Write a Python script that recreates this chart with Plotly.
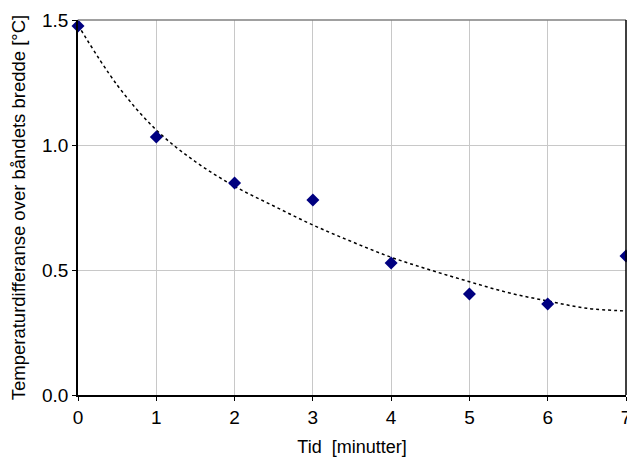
import plotly.graph_objects as go

time_min = [0, 1, 2, 3, 4, 5, 6, 7]
temp_diff = [1.476, 1.032, 0.848, 0.78, 0.528, 0.404, 0.364, 0.556]

trend_x = [0, 0.5, 1, 1.5, 2, 2.5, 3, 3.5, 4, 4.5, 5, 5.5, 6, 6.5, 7]
trend_y = [1.48, 1.24, 1.06, 0.933, 0.835, 0.756, 0.68, 0.613, 0.551, 0.50, 0.453, 0.409, 0.376, 0.347, 0.336]

x_ticks = [0, 1, 2, 3, 4, 5, 6, 7]
y_ticks = [0.0, 0.5, 1.0, 1.5]
y_tick_labels = ["0.0", "0.5", "1.0", "1.5"]

fig = go.Figure()
fig.add_trace(go.Scatter(
    x=trend_x, y=trend_y, mode="lines",
    line=dict(color="black", width=1.5, dash="dot", shape="spline", smoothing=1.0),
    hoverinfo="skip", cliponaxis=False,
))
fig.add_trace(go.Scatter(
    x=time_min, y=temp_diff, mode="markers",
    marker=dict(symbol="diamond", size=10, color="#000080"),
    cliponaxis=False,
))

font = "Liberation Sans, Arial, sans-serif"
fig.update_layout(
    width=627, height=457,
    margin=dict(l=78, r=1, t=20, b=62, autoexpand=False),
    paper_bgcolor="white", plot_bgcolor="white",
    showlegend=False,
    font=dict(family=font, color="black"),
    xaxis=dict(
        range=[0, 7], tickvals=x_ticks, ticktext=[str(v) for v in x_ticks],
        showgrid=True, gridcolor="#c8c8c8", gridwidth=1,
        showline=True, linecolor="black", linewidth=1.5,
        ticks="outside", ticklen=4, tickcolor="black",
        tickfont=dict(size=19, family=font),
        ticklabeloverflow="allow",
        zeroline=False, automargin=False,
        title=dict(text="Tid  [minutter]", font=dict(size=18, family=font), standoff=16),
    ),
    yaxis=dict(
        range=[0, 1.5], tickvals=y_ticks, ticktext=y_tick_labels,
        showgrid=True, gridcolor="#c8c8c8", gridwidth=1,
        showline=True, linecolor="black", linewidth=1.5,
        ticks="outside", ticklen=4, tickcolor="black",
        tickfont=dict(size=19, family=font),
        ticklabeloverflow="allow",
        zeroline=False, automargin=False,
        title=dict(text="Temperaturdifferanse over båndets bredde [°C]", font=dict(size=18.5, family=font), standoff=12),
    ),
    shapes=[
        dict(type="line", xref="paper", yref="paper", x0=0, x1=1, y0=1, y1=1,
             line=dict(color="#808080", width=1.5)),
        dict(type="line", xref="paper", yref="paper", x0=1, x1=1, y0=0, y1=1,
             line=dict(color="black", width=1.5)),
    ],
)

fig.write_html(
    "out.html",
    config={"displayModeBar": False},
    post_script="document.body.style.margin='0';document.body.style.overflow='hidden';",
)
